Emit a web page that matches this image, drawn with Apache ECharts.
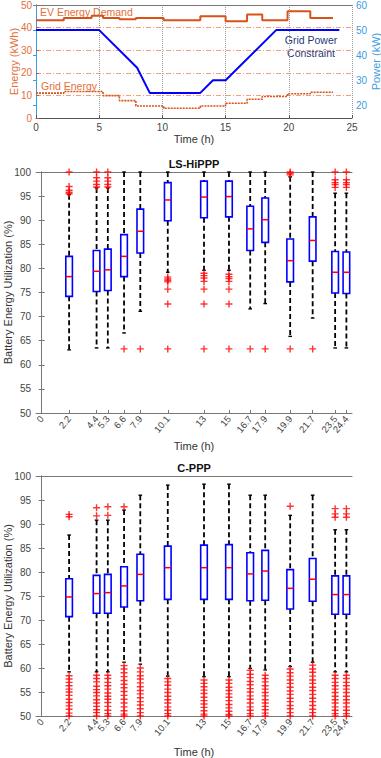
<!DOCTYPE html>
<html>
<head>
<meta charset="utf-8">
<script src="https://cdn.jsdelivr.net/npm/echarts@6/dist/echarts.min.js"></script>
<style>
html, body { margin: 0; padding: 0; background: #fff; }
#main { width: 381px; height: 758px; }
</style>
</head>
<body>
<div id="main"></div>
<script>
// ---- top panel data ----
var stepTimes = [0, 2.2, 4.4, 5.3, 6.6, 7.9, 10.1, 13, 15, 16.7, 17.9, 19.9, 21.7, 23.5];
var evDemand = [43.2, 44.3, 45.2, 44.3, 43.7, 44.3, 43.2, 45.0, 42.8, 45.8, 43.2, 47.2, 44.3, 44.3];
var gridEnergy = [11.0, 11.7, 11.7, 9.9, 7.7, 5.3, 4.3, 5.3, 6.5, 8.3, 9.5, 10.7, 11.4, 11.4];
var powerTimes = [0, 5, 8, 9, 13, 14, 15, 19, 24];
var powerKW = [50, 50, 35, 25, 25, 30, 30, 50, 50];
var powerTicks = [20, 30, 40, 50, 60];

// ---- box plot data ----
var tickPos = [0, 2.2, 4.4, 5.3, 6.6, 7.9, 10.1, 13, 15, 16.7, 17.9, 19.9, 21.7, 23.5, 24.4];
var lastTick = [24.4];
var boxPos = [2.2, 4.4, 5.3, 6.6, 7.9, 10.1, 13, 15, 16.7, 17.9, 19.9, 21.7, 23.5, 24.4];
// [whisker low, q1, median, q3, whisker high]
var lsStats = [
    [63.1, 74.2, 78.3, 82.5, 95.3],
    [63.5, 75.2, 79.4, 83.7, 96.7],
    [63.5, 75.4, 79.7, 84.0, 96.7],
    [66.6, 78.3, 82.5, 87.0, 100],
    [71.1, 83.2, 87.7, 92.3, 100],
    [79.2, 89.9, 94.2, 97.8, 100],
    [79.6, 90.5, 94.8, 98.1, 100],
    [79.6, 90.7, 94.9, 98.1, 100],
    [71.6, 83.7, 88.2, 92.9, 100],
    [72.7, 85.4, 90.1, 94.6, 100],
    [65.9, 77.2, 81.6, 86.1, 99.0],
    [69.7, 81.5, 85.8, 90.7, 100],
    [63.5, 74.9, 79.2, 83.5, 95.6],
    [63.5, 74.8, 79.2, 83.4, 95.6]
];
var lsOutliers = [
    [100, 97.0, 96.2, 95.8, 95.5],
    [100, 98.8, 98.1, 97.4, 96.9],
    [100, 98.8, 98.1, 97.4, 96.9],
    [63.3],
    [63.3],
    [78.2, 77.8, 77.5, 77.2, 75.7, 72.6, 63.3],
    [79.0, 78.5, 78.0, 77.3, 75.7, 72.6, 63.3],
    [78.8, 78.3, 77.9, 77.3, 75.7, 72.6, 63.3],
    [63.3],
    [63.3],
    [100, 99.7, 99.4, 63.3],
    [63.3],
    [100, 98.4, 97.8, 97.4, 96.8],
    [100, 98.4, 97.8, 97.4, 96.8]
];
var cStats = [
    [59.2, 70.7, 74.8, 78.6, 87.7],
    [59.2, 71.4, 75.5, 79.3, 90.8],
    [59.2, 71.4, 75.7, 79.5, 90.8],
    [61.2, 72.7, 77.1, 81.1, 92.9],
    [60.8, 74.0, 79.5, 83.7, 96.0],
    [58.3, 74.3, 80.9, 85.4, 98.1],
    [58.2, 74.3, 80.9, 85.6, 98.3],
    [58.2, 74.3, 80.9, 85.7, 98.3],
    [59.9, 74.0, 79.6, 84.0, 96.0],
    [59.6, 74.1, 80.2, 84.5, 96.0],
    [60.3, 72.3, 76.6, 80.5, 91.8],
    [61.2, 73.9, 78.5, 82.8, 96.0],
    [59.2, 71.2, 75.3, 79.2, 88.8],
    [59.2, 71.2, 75.3, 79.2, 88.8]
];
var cOutliers = [
    [92.0, 91.5, 58.4, 57.7, 57.0, 56.3, 55.6, 55.0, 54.3, 53.5, 52.8, 52.1, 51.4, 50.6, 50.0],
    [93.4, 91.7, 58.5, 57.8, 57.1, 56.2, 55.5, 54.9, 54.2, 53.4, 52.7, 52.0, 51.3, 50.7, 50.0],
    [93.6, 91.8, 58.5, 57.8, 57.0, 56.3, 55.6, 54.8, 54.1, 53.5, 52.8, 52.0, 51.2, 50.5, 50.0],
    [93.6, 60.5, 59.8, 59.0, 58.2, 57.4, 56.6, 55.9, 55.1, 54.3, 53.5, 52.7, 51.9, 51.1, 50.4, 50.0],
    [60.0, 59.2, 58.4, 57.7, 56.9, 56.1, 55.3, 54.6, 53.8, 53.0, 52.3, 51.5, 50.7, 50.0],
    [57.8, 57.1, 56.4, 55.6, 54.9, 54.1, 53.4, 52.7, 51.9, 51.2, 50.5, 50.0],
    [57.5, 56.8, 56.1, 55.4, 54.7, 53.9, 53.2, 52.5, 51.8, 51.1, 50.4, 50.0],
    [57.5, 56.8, 56.0, 55.3, 54.6, 53.9, 53.2, 52.4, 51.7, 51.0, 50.3, 50.0],
    [59.5, 58.7, 58.0, 57.2, 56.5, 55.7, 55.0, 54.2, 53.5, 52.7, 51.9, 51.2, 50.5, 50.0],
    [58.5, 57.8, 57.1, 56.3, 55.6, 54.9, 54.2, 53.4, 52.7, 52.0, 51.3, 50.6, 50.0],
    [93.7, 59.8, 59.0, 58.3, 57.5, 56.8, 56.0, 55.2, 54.5, 53.7, 53.0, 52.2, 51.5, 50.7, 50.0],
    [60.6, 59.8, 59.1, 58.3, 57.5, 56.8, 56.0, 55.3, 54.5, 53.7, 53.0, 52.2, 51.4, 50.7, 50.0],
    [93.2, 92.1, 91.4, 58.5, 57.8, 57.0, 56.3, 55.6, 54.9, 54.1, 53.4, 52.7, 51.9, 51.2, 50.5, 50.0],
    [93.2, 92.1, 91.4, 58.5, 57.8, 57.0, 56.3, 55.6, 54.9, 54.1, 53.4, 52.7, 51.9, 51.2, 50.5, 50.0]
];

var FONT = '"Liberation Sans", Arial, sans-serif';
var ORANGE = '#D95319';
var ORANGE_TXT = '#E2703A';
var BLUE_AX = '#3D9BE0';
var GRAY = '#777';
var BOX_MIN = -0.45, BOX_MAX = 24.85;

function pairs(xs, ys) {
    return xs.map(function (x, i) { return [x, ys[i]]; });
}
function boxData(stats) {
    return stats.map(function (s, i) { return [boxPos[i]].concat(s); });
}
function outlierData(list) {
    var out = [];
    list.forEach(function (vals, i) {
        vals.forEach(function (v) { out.push([boxPos[i], v]); });
    });
    return out;
}

function renderBox(params, api) {
    var x = api.value(0);
    var lo = api.coord([x, api.value(1)]);
    var q1 = api.coord([x, api.value(2)]);
    var md = api.coord([x, api.value(3)]);
    var q3 = api.coord([x, api.value(4)]);
    var hi = api.coord([x, api.value(5)]);
    var cx = lo[0];
    var hw = 3.3, cw = 1.8;
    var dash = { stroke: '#000', lineWidth: 1.8, lineDash: [5, 3] };
    var cap = { stroke: '#000', lineWidth: 1.4 };
    return {
        type: 'group',
        children: [
            { type: 'line', shape: { x1: cx, y1: hi[1], x2: cx, y2: q3[1] }, style: dash },
            { type: 'line', shape: { x1: cx, y1: q1[1], x2: cx, y2: lo[1] }, style: dash },
            { type: 'line', shape: { x1: cx - cw, y1: hi[1], x2: cx + cw, y2: hi[1] }, style: cap },
            { type: 'line', shape: { x1: cx - cw, y1: lo[1], x2: cx + cw, y2: lo[1] }, style: cap },
            { type: 'rect', shape: { x: cx - hw, y: q3[1], width: hw * 2, height: q1[1] - q3[1] },
              style: { fill: 'none', stroke: '#0000FF', lineWidth: 1.6 } },
            { type: 'line', shape: { x1: cx - hw, y1: md[1], x2: cx + hw, y2: md[1] },
              style: { stroke: '#FF0000', lineWidth: 1.5 } }
        ]
    };
}

var PLUS = 'path://M4,0H6V4H10V6H6V10H4V6H0V4H4Z';

function boxXAxis(g, gap) {
    return {
        type: 'value', gridIndex: g, min: BOX_MIN, max: BOX_MAX,
        axisLine: { lineStyle: { color: GRAY } },
        axisTick: { inside: true, length: 3, customValues: tickPos, lineStyle: { color: GRAY } },
        axisLabel: { customValues: tickPos.slice(0, -1), rotate: 50, fontSize: 9.5, color: '#444', margin: 4,
                     hideOverlap: false, fontFamily: FONT, formatter: function (v) { return String(v); } },
        splitLine: { show: false },
        name: 'Time (h)', nameLocation: 'middle', nameGap: gap, nameMoveOverlap: false,
        nameTextStyle: { fontSize: 11, color: '#333', fontFamily: FONT }
    };
}
// extra label-only axis so the crowded last label is not dropped
function lastLabelAxis(g) {
    return {
        type: 'value', gridIndex: g, position: 'bottom', min: BOX_MIN, max: BOX_MAX,
        axisLine: { show: false }, axisTick: { show: false }, splitLine: { show: false },
        axisLabel: { customValues: lastTick, rotate: 50, fontSize: 9.5, color: '#444', margin: 4,
                     fontFamily: FONT, formatter: function (v) { return String(v); } }
    };
}
function borderXAxis(g, min, max) {
    return {
        type: 'value', gridIndex: g, position: 'top', min: min, max: max,
        axisLine: { lineStyle: { color: GRAY } },
        axisTick: { show: false }, axisLabel: { show: false }, splitLine: { show: false }
    };
}
function boxYAxis(g) {
    return {
        type: 'value', gridIndex: g, min: 50, max: 100, interval: 5,
        axisLine: { show: true, lineStyle: { color: GRAY } },
        axisTick: { show: true, inside: true, length: 3, lineStyle: { color: GRAY } },
        axisLabel: { fontSize: 10, color: '#444', margin: 5, fontFamily: FONT },
        splitLine: { show: false },
        name: 'Battery Energy Utilization (%)', nameLocation: 'middle', nameGap: 23, nameMoveOverlap: false,
        nameTextStyle: { fontSize: 11, color: '#333', fontFamily: FONT }
    };
}
function boxYAxisRight(g) {
    return {
        type: 'value', gridIndex: g, position: 'right', min: 50, max: 100, interval: 5,
        axisLine: { show: true, lineStyle: { color: GRAY } },
        axisTick: { show: true, inside: true, length: 3, lineStyle: { color: GRAY } },
        axisLabel: { show: false }, splitLine: { show: false }
    };
}

var option = {
    backgroundColor: '#fff',
    animation: false,
    textStyle: { fontFamily: FONT },
    title: [
        { text: 'LS-HiPPP', left: 194, top: 158, textAlign: 'center', padding: 0,
          textStyle: { fontSize: 11, fontWeight: 'bold', color: '#111', fontFamily: FONT } },
        { text: 'C-PPP', left: 194, top: 462, textAlign: 'center', padding: 0,
          textStyle: { fontSize: 11, fontWeight: 'bold', color: '#111', fontFamily: FONT } }
    ],
    grid: [
        { left: 36, right: 29, top: 5, height: 113, outerBoundsMode: 'none' },
        { left: 36, right: 29, top: 172, height: 241, outerBoundsMode: 'none' },
        { left: 36, right: 29, top: 476, height: 240, outerBoundsMode: 'none' }
    ],
    xAxis: [
        {
            type: 'value', gridIndex: 0, min: 0, max: 25, interval: 5,
            axisLine: { lineStyle: { color: '#555' } },
            axisTick: { inside: true, length: 3, lineStyle: { color: '#555' } },
            axisLabel: { fontSize: 10, color: '#444', margin: 4, fontFamily: FONT },
            splitLine: { show: true, lineStyle: { color: '#999', type: 'dotted', width: 1 } },
            name: 'Time (h)', nameLocation: 'middle', nameGap: 15, nameMoveOverlap: false,
            nameTextStyle: { fontSize: 11, color: '#333', fontFamily: FONT }
        },
        borderXAxis(0, 0, 25),
        boxXAxis(1, 27),
        borderXAxis(1, BOX_MIN, BOX_MAX),
        boxXAxis(2, 30),
        borderXAxis(2, BOX_MIN, BOX_MAX),
        lastLabelAxis(1),
        lastLabelAxis(2)
    ],
    yAxis: [
        {
            type: 'value', gridIndex: 0, min: 0, max: 50, interval: 10,
            axisLine: { show: true, lineStyle: { color: ORANGE } },
            axisTick: { show: true, inside: true, length: 3, lineStyle: { color: ORANGE } },
            axisLabel: { fontSize: 10, color: ORANGE_TXT, margin: 4, fontFamily: FONT },
            splitLine: { show: true, lineStyle: { color: '#F2A27A', type: [5, 2, 1, 2], width: 1 } },
            name: 'Energy (kWh)', nameLocation: 'middle', nameGap: 17, nameMoveOverlap: false,
            nameTextStyle: { fontSize: 11, color: ORANGE_TXT, fontFamily: FONT }
        },
        {
            type: 'value', gridIndex: 0, position: 'right', min: 15, max: 60,
            axisLine: { show: true, lineStyle: { color: BLUE_AX } },
            axisTick: { show: true, inside: true, length: 3, customValues: powerTicks, lineStyle: { color: BLUE_AX } },
            axisLabel: { fontSize: 10, color: BLUE_AX, margin: 4, customValues: powerTicks, fontFamily: FONT },
            splitLine: { show: false },
            name: 'Power (kW)', nameLocation: 'middle', nameGap: 18, nameRotate: 90, nameMoveOverlap: false,
            nameTextStyle: { fontSize: 11, color: BLUE_AX, fontFamily: FONT }
        },
        boxYAxis(1),
        boxYAxisRight(1),
        boxYAxis(2),
        boxYAxisRight(2)
    ],
    graphic: [
        { type: 'text', x: 40, y: 6, style: { text: 'EV Energy Demand', fill: ORANGE_TXT, fontSize: 10.5, fontFamily: FONT } },
        { type: 'text', x: 41, y: 80, style: { text: 'Grid Energy', fill: ORANGE_TXT, fontSize: 10.5, fontFamily: FONT } },
        { type: 'text', x: 311, y: 33, style: { text: 'Grid Power\nConstraint', align: 'center', lineHeight: 13,
          fill: '#1F3A78', fontSize: 10.5, fontFamily: FONT } }
    ],
    series: [
        {
            name: 'EV Energy Demand', type: 'line', xAxisIndex: 0, yAxisIndex: 0, step: 'end',
            data: pairs(stepTimes, evDemand), symbol: 'none',
            lineStyle: { color: ORANGE, width: 2 }
        },
        {
            name: 'Grid Energy', type: 'line', xAxisIndex: 0, yAxisIndex: 0, step: 'end',
            data: pairs(stepTimes, gridEnergy), symbol: 'none',
            lineStyle: { color: ORANGE, width: 1.6, type: [2, 1] }
        },
        {
            name: 'Grid Power Constraint', type: 'line', xAxisIndex: 0, yAxisIndex: 1,
            data: pairs(powerTimes, powerKW), symbol: 'none',
            lineStyle: { color: '#0000FF', width: 2 }
        },
        {
            name: 'LS-HiPPP', type: 'custom', xAxisIndex: 2, yAxisIndex: 2,
            renderItem: renderBox, data: boxData(lsStats),
            encode: { x: 0, y: [1, 2, 3, 4, 5] }, z: 2
        },
        {
            name: 'LS-HiPPP outliers', type: 'scatter', xAxisIndex: 2, yAxisIndex: 2,
            data: outlierData(lsOutliers), symbol: PLUS, symbolSize: 7,
            itemStyle: { color: '#FF0000' }, z: 3
        },
        {
            name: 'C-PPP', type: 'custom', xAxisIndex: 4, yAxisIndex: 4,
            renderItem: renderBox, data: boxData(cStats),
            encode: { x: 0, y: [1, 2, 3, 4, 5] }, z: 2
        },
        {
            name: 'C-PPP outliers', type: 'scatter', xAxisIndex: 4, yAxisIndex: 4,
            data: outlierData(cOutliers), symbol: PLUS, symbolSize: 7,
            itemStyle: { color: '#FF0000' }, z: 3
        }
    ]
};

var chart = echarts.init(document.getElementById('main'), null, { renderer: 'svg' });
chart.setOption(option);
</script>
</body>
</html>
